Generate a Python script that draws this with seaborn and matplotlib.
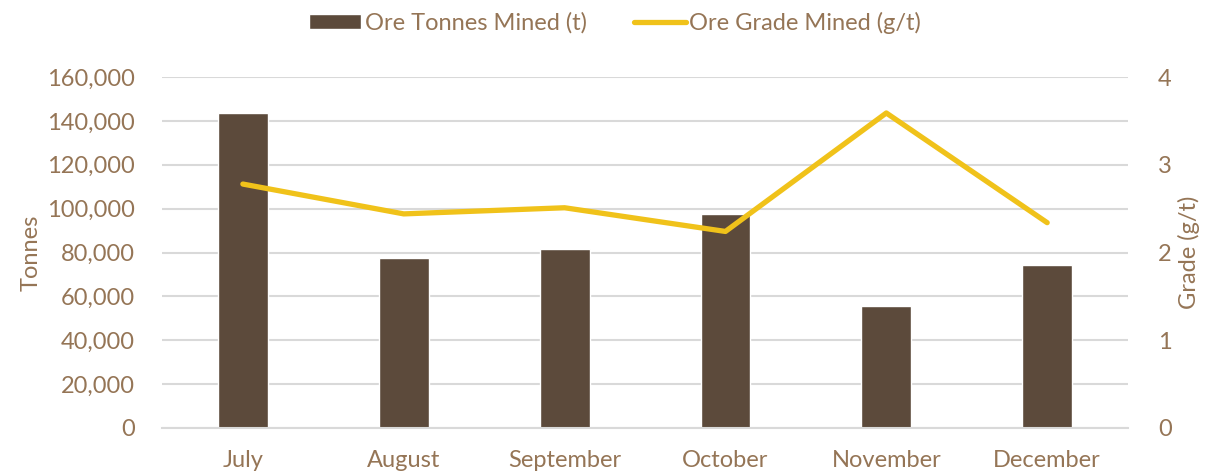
import numpy as np
import pandas as pd
import seaborn as sns
import matplotlib
matplotlib.use("Agg")
from matplotlib import pyplot as plt
from matplotlib.ticker import FuncFormatter, MultipleLocator
from matplotlib.patches import Patch
from matplotlib.lines import Line2D

# Data
months = ['July', 'August', 'September', 'October', 'November', 'December']
tonnes = [143600, 77500, 81600, 97500, 55600, 74300]
grade = [2.78, 2.44, 2.51, 2.24, 3.59, 2.34]

bar_color = '#5C4A3B'
line_color = '#F0C21A'
text_color = '#957556'
grid_color = '#D9D9D9'

sns.set_style('white')
plt.rcParams['font.family'] = ['Lato', 'DejaVu Sans']

df = pd.DataFrame({'month': months, 'tonnes': tonnes, 'grade': grade})

fig = plt.figure(figsize=(12.06, 4.71), dpi=100)
ax = fig.add_axes([0.1347, 0.0913, 0.8003, 0.7452])

sns.barplot(data=df, x='month', y='tonnes', order=months, color=bar_color,
            width=0.31, saturation=1, ax=ax, zorder=2)
ax.set_ylim(0, 160000)
ax.set_xlim(-0.5, len(months) - 0.5)
ax.yaxis.set_major_locator(MultipleLocator(20000))
ax.yaxis.set_major_formatter(FuncFormatter(lambda v, p: f'{int(v):,}'))
ax.grid(axis='y', color=grid_color, linewidth=1.5, zorder=0)
ax.set_axisbelow(True)
ax.set_xlabel('')
ax.set_ylabel('Tonnes', color=text_color, fontsize=17, labelpad=4)
ax.tick_params(axis='y', colors=text_color, labelsize=17, length=0, pad=20)
ax.tick_params(axis='x', colors=text_color, labelsize=17, length=0, pad=16)
for s in ax.spines.values():
    s.set_visible(False)
ax.spines['bottom'].set_visible(True)
ax.spines['bottom'].set_color(grid_color)
ax.spines['bottom'].set_linewidth(1.5)

ax2 = ax.twinx()
sns.lineplot(data=df, x='month', y='grade', color=line_color, linewidth=3.8,
             ax=ax2, zorder=3)
ax2.set_ylim(0, 4)
ax2.yaxis.set_major_locator(MultipleLocator(1))
ax2.set_ylabel('Grade (g/t)', color=text_color, fontsize=17, labelpad=4)
ax2.tick_params(axis='y', colors=text_color, labelsize=17, length=0, pad=22)
for s in ax2.spines.values():
    s.set_visible(False)

handles = [Patch(facecolor=bar_color, label='Ore Tonnes Mined (t)'),
           Line2D([0], [0], color=line_color, linewidth=3.8, label='Ore Grade Mined (g/t)')]
leg = fig.legend(handles=handles, loc='upper center', bbox_to_anchor=(0.51, 1.02),
                 ncol=2, frameon=False, fontsize=17, handlelength=2.2,
                 handletextpad=0.15, columnspacing=2.0, handleheight=0.6)
for t in leg.get_texts():
    t.set_color(text_color)

fig.savefig('out.png', dpi=100)
